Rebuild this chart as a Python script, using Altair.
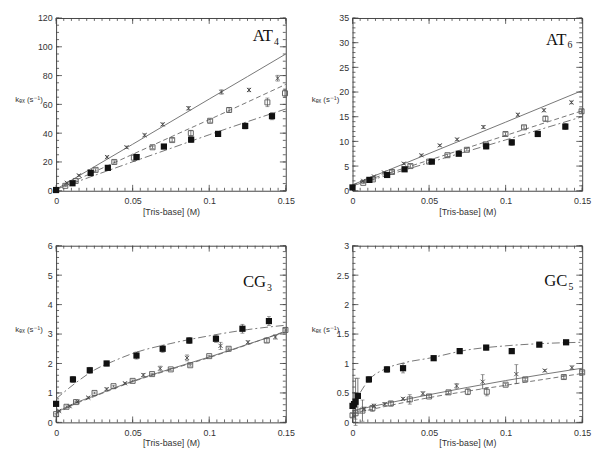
import altair as alt
import pandas as pd
import numpy as np

# ---------------- shared ticks ----------------
X_TICKS = [0, 0.05, 0.1, 0.15]
X_MINOR = [round(v, 4) for v in np.arange(0, 0.1501, 0.005)]

# ---------------- AT4 ----------------
at4_cross_x = [0.007, 0.0149, 0.022, 0.0333, 0.046, 0.0578, 0.0696, 0.0865, 0.108, 0.126, 0.1447]
at4_cross_y = [5.5, 10.7, 13.6, 23.4, 30.2, 38.6, 46.1, 57.3, 68.6, 70.0, 78.2]
at4_cross_e = [0.5, 0.6, 0.8, 0.8, 0.8, 1.0, 1.0, 1.2, 1.5, 1.2, 2.0]
at4_open_x = [0.006, 0.0128, 0.0258, 0.038, 0.0508, 0.063, 0.0758, 0.088, 0.1006, 0.113, 0.138, 0.1495]
at4_open_y = [3.4, 6.8, 14.5, 20.0, 23.0, 30.2, 35.2, 40.0, 48.6, 56.1, 61.4, 67.7]
at4_open_e = [0.5, 0.6, 0.8, 0.8, 2.5, 0.8, 1.0, 2.0, 1.0, 1.5, 3.0, 3.0]
at4_fill_x = [0.0, 0.0107, 0.0226, 0.0338, 0.0526, 0.0704, 0.0882, 0.1058, 0.1235, 0.141]
at4_fill_y = [0.5, 5.2, 12.3, 15.9, 23.4, 30.7, 35.5, 39.5, 45.0, 51.8]
at4_fill_e = [0.4, 0.6, 0.8, 0.8, 1.0, 1.0, 1.8, 1.5, 2.0, 2.5]
at4_fit_x = [0, 0.025, 0.05, 0.075, 0.1, 0.125, 0.15]
at4_fit_solid = [1.0, 16.7, 32.3, 48.0, 63.7, 79.3, 95.0]
at4_fit_dash = [1.0, 13.2, 25.3, 37.4, 49.4, 61.6, 73.9]
at4_fit_dashdot = [1.0, 10.6, 20.1, 29.5, 38.9, 48.0, 56.8]

# ---------------- AT6 ----------------
at6_cross_x = [0.007, 0.014, 0.0206, 0.0335, 0.045, 0.057, 0.0683, 0.0855, 0.108, 0.125, 0.143]
at6_cross_y = [2.0, 2.9, 3.7, 5.5, 7.2, 9.2, 10.4, 12.9, 15.4, 16.3, 17.9]
at6_cross_e = [0.1, 0.1, 0.15, 0.2, 0.2, 0.2, 0.25, 0.3, 0.3, 0.3, 0.3]
at6_open_x = [0.007, 0.0133, 0.0258, 0.0378, 0.05, 0.062, 0.0747, 0.087, 0.0999, 0.112, 0.126, 0.1496]
at6_open_y = [1.6, 2.3, 3.8, 5.0, 5.9, 7.2, 8.3, 9.4, 11.5, 12.85, 14.6, 16.1]
at6_open_e = [0.15, 0.15, 0.3, 0.3, 0.3, 0.25, 0.25, 0.3, 0.3, 0.3, 0.5, 0.4]
at6_fill_x = [0.0, 0.011, 0.0226, 0.034, 0.0518, 0.0694, 0.0873, 0.104, 0.121, 0.139]
at6_fill_y = [0.67, 2.2, 3.2, 4.35, 5.9, 7.5, 9.0, 9.8, 11.5, 13.0]
at6_fill_e = [0.2, 0.2, 0.3, 0.3, 0.3, 0.3, 0.5, 0.6, 0.5, 0.6]
at6_fit_x = [0, 0.05, 0.1, 0.15]
at6_fit_solid = [1.2, 7.55, 13.9, 20.3]
at6_fit_dash = [1.2, 6.2, 11.2, 16.2]
at6_fit_dashdot = [1.0, 5.7, 10.3, 15.0]

# ---------------- CG3 ----------------
cg3_cross_x = [0.002, 0.0088, 0.014, 0.021, 0.033, 0.045, 0.057, 0.068, 0.0855, 0.1074, 0.1253, 0.1432]
cg3_cross_y = [0.39, 0.55, 0.70, 0.84, 1.13, 1.33, 1.61, 1.83, 2.19, 2.60, 2.72, 2.90]
cg3_cross_e = [0.03, 0.03, 0.03, 0.03, 0.04, 0.03, 0.05, 0.08, 0.10, 0.12, 0.05, 0.07]
cg3_open_x = [0.0, 0.0068, 0.013, 0.0251, 0.0375, 0.05, 0.0627, 0.0749, 0.0876, 0.1, 0.1127, 0.1376, 0.1498]
cg3_open_y = [0.28, 0.53, 0.69, 1.00, 1.23, 1.41, 1.64, 1.80, 1.94, 2.25, 2.50, 2.78, 3.14]
cg3_open_e = [0.03, 0.03, 0.03, 0.03, 0.03, 0.03, 0.03, 0.03, 0.03, 0.03, 0.03, 0.06, 0.03]
cg3_fill_x = [0.0, 0.011, 0.022, 0.033, 0.0525, 0.0696, 0.087, 0.1044, 0.1217, 0.139]
cg3_fill_y = [0.63, 1.46, 1.77, 2.00, 2.27, 2.50, 2.78, 2.84, 3.18, 3.44]
cg3_fill_e = [0.05, 0.10, 0.10, 0.08, 0.12, 0.12, 0.10, 0.12, 0.15, 0.15]
cg3_fit_x = [0, 0.0125, 0.025, 0.0375, 0.05, 0.075, 0.1, 0.125, 0.15]
cg3_fit_solid = [0.33, 0.66, 0.90, 1.16, 1.40, 1.82, 2.22, 2.65, 3.08]
cg3_fit_dash = [0.30, 0.63, 0.88, 1.14, 1.38, 1.80, 2.20, 2.64, 3.10]
cg3_fit_dashdot = [0.80, 1.33, 1.78, 2.08, 2.34, 2.68, 2.94, 3.15, 3.30]

# ---------------- GC5 ----------------
gc5_cross_x = [0.0075, 0.014, 0.021, 0.033, 0.046, 0.068, 0.085, 0.107, 0.1256, 0.1433]
gc5_cross_y = [0.23, 0.28, 0.31, 0.40, 0.49, 0.62, 0.69, 0.82, 0.88, 0.93]
gc5_cross_e = [0.03, 0.03, 0.03, 0.02, 0.03, 0.04, 0.12, 0.16, 0.02, 0.03]
gc5_open_x = [0.0, 0.002, 0.0065, 0.013, 0.025, 0.0374, 0.05, 0.0627, 0.0753, 0.0877, 0.1, 0.1128, 0.138, 0.15]
gc5_open_y = [0.12, 0.155, 0.20, 0.24, 0.32, 0.39, 0.44, 0.51, 0.52, 0.52, 0.64, 0.73, 0.77, 0.85]
gc5_open_e = [0.03, 0.10, 0.18, 0.05, 0.04, 0.08, 0.02, 0.02, 0.05, 0.07, 0.02, 0.02, 0.03, 0.02]
gc5_fill_x = [0.0, 0.001, 0.002, 0.0035, 0.0107, 0.0225, 0.033, 0.053, 0.070, 0.0873, 0.104, 0.122, 0.1395]
gc5_fill_y = [0.28, 0.31, 0.35, 0.45, 0.73, 0.90, 0.92, 1.09, 1.21, 1.27, 1.21, 1.32, 1.36]
gc5_fill_e = [0.03, 0.20, 0.40, 0.30, 0.05, 0.05, 0.08, 0.04, 0.03, 0.04, 0.04, 0.03, 0.02]
gc5_fit_x = [0, 0.0035, 0.0107, 0.0225, 0.035, 0.05, 0.075, 0.1, 0.125, 0.15]
gc5_fit_dashdot = [0.28, 0.44, 0.72, 0.92, 1.02, 1.09, 1.23, 1.30, 1.34, 1.36]
gc5_lin_x = [0, 0.05, 0.1, 0.15]
gc5_fit_solid = [0.20, 0.47, 0.71, 0.92]
gc5_fit_dash = [0.15, 0.42, 0.63, 0.83]

# ---------------- style ----------------
FONT = "Liberation Sans, DejaVu Sans"
SERIF = "Liberation Serif, DejaVu Serif"
TXT = "#333333"
FRAME = "#444444"
LINE = "#666666"
CROSS_PATH = "M-1,-1L1,1M-1,1L1,-1"
DASH = [5, 3]
DASHDOT = [8, 3, 2, 3]
LABEL_EXPR = "'' + datum.value"


def make_panel(p):
    W, H = p["w"], p["h"]
    xs = alt.Scale(domain=[0, 0.15], nice=False, zero=False)
    ys = alt.Scale(domain=[0, p["ymax"]], nice=False, zero=False)
    xaxis = alt.Axis(values=X_TICKS, labelExpr=LABEL_EXPR, title="[Tris-base] (M)",
                     ticks=False, tickSize=0, domain=False, grid=False,
                     labelPadding=6, titlePadding=2, labelFontSize=9, titleFontSize=9,
                     labelFont=FONT, titleFont=FONT, labelColor=TXT, titleColor=TXT,
                     titleFontWeight="normal", labelFlush=False)
    yaxis = alt.Axis(values=p["ymajor"], labelExpr=LABEL_EXPR, title="kₑₓ (s⁻¹)",
                     ticks=False, tickSize=0, domain=False, grid=False,
                     labelPadding=4, labelFontSize=9, titleFontSize=8,
                     labelFont=FONT, titleFont=FONT, labelColor=TXT, titleColor=TXT,
                     titleFontWeight="normal", titleAngle=0, titleAlign="right",
                     titleBaseline="middle", titleX=-14, titleY=H / 2 - 5)
    X = alt.X("x:Q", scale=xs, axis=xaxis)
    Y = alt.Y("y:Q", scale=ys, axis=yaxis)

    layers = []
    # inward ticks on all four sides
    for vals, ln in [(X_MINOR, 3), (X_TICKS, 6)]:
        d = pd.DataFrame({"x": vals})
        layers.append(alt.Chart(d).mark_rule(color=FRAME, strokeWidth=0.8).encode(
            x=X, y=alt.value(H), y2=alt.value(H - ln)))
        layers.append(alt.Chart(d).mark_rule(color=FRAME, strokeWidth=0.8).encode(
            x=X, y=alt.value(0), y2=alt.value(ln)))
    for vals, ln in [(p["yminor"], 3), (p["ymajor"], 6)]:
        d = pd.DataFrame({"y": vals})
        layers.append(alt.Chart(d).mark_rule(color=FRAME, strokeWidth=0.8).encode(
            y=Y, x=alt.value(0), x2=alt.value(ln)))
        layers.append(alt.Chart(d).mark_rule(color=FRAME, strokeWidth=0.8).encode(
            y=Y, x=alt.value(W), x2=alt.value(W - ln)))

    # fit curves
    for fx, fy, dash in p["fits"]:
        d = pd.DataFrame({"x": fx, "y": fy})
        kw = dict(interpolate="monotone", color=LINE, strokeWidth=0.9)
        if dash:
            kw["strokeDash"] = dash
        layers.append(alt.Chart(d).mark_line(**kw).encode(x=X, y=Y))

    # error bars
    for sx, sy, se, _kind in p["series"]:
        d = pd.DataFrame({"x": sx, "y": sy, "err": se})
        layers.append(alt.Chart(d).mark_errorbar(ticks={"size": 4}, color="#555555", thickness=0.8).encode(
            x=X, y=Y, yError="err:Q"))

    # symbols
    for sx, sy, se, kind in p["series"]:
        d = pd.DataFrame({"x": sx, "y": sy})
        if kind == "fill":
            m = alt.Chart(d).mark_point(shape="square", filled=True, size=40, color="#111111", opacity=1)
        elif kind == "open":
            m = alt.Chart(d).mark_point(shape="square", filled=False, size=26, color="#555555",
                                        strokeWidth=0.9, opacity=1)
        else:
            m = alt.Chart(d).mark_point(shape=CROSS_PATH, filled=False, size=18, color="#444444",
                                        strokeWidth=0.9, opacity=1)
        layers.append(m.encode(x=X, y=Y))

    # panel label
    lab = pd.DataFrame({"t": [p["label"]], "s": [p["sub"]]})
    layers.append(alt.Chart(lab).mark_text(font=SERIF, fontSize=17, align="right",
                                           baseline="alphabetic", color="#111111").encode(
        text="t:N", x=alt.value(W - p["lab_r"]), y=alt.value(p["lab_b"])))
    layers.append(alt.Chart(lab).mark_text(font=SERIF, fontSize=10, align="left",
                                           baseline="alphabetic", color="#111111").encode(
        text="s:N", x=alt.value(W - p["lab_r"] + 1), y=alt.value(p["lab_b"] + 4)))

    return alt.layer(*layers).properties(width=W, height=H)


panels = [
    dict(w=234, h=176, ymax=120, ymajor=[0, 20, 40, 60, 80, 100, 120],
         yminor=list(range(0, 121, 5)), label="AT", sub="4", lab_r=13, lab_b=23,
         fits=[(at4_fit_x, at4_fit_solid, None), (at4_fit_x, at4_fit_dash, DASH),
               (at4_fit_x, at4_fit_dashdot, DASHDOT)],
         series=[(at4_cross_x, at4_cross_y, at4_cross_e, "cross"),
                 (at4_open_x, at4_open_y, at4_open_e, "open"),
                 (at4_fill_x, at4_fill_y, at4_fill_e, "fill")]),
    dict(w=234, h=176, ymax=35, ymajor=[0, 5, 10, 15, 20, 25, 30, 35],
         yminor=list(range(0, 36, 1)), label="AT", sub="6", lab_r=16, lab_b=27,
         fits=[(at6_fit_x, at6_fit_solid, None), (at6_fit_x, at6_fit_dash, DASH),
               (at6_fit_x, at6_fit_dashdot, DASHDOT)],
         series=[(at6_cross_x, at6_cross_y, at6_cross_e, "cross"),
                 (at6_open_x, at6_open_y, at6_open_e, "open"),
                 (at6_fill_x, at6_fill_y, at6_fill_e, "fill")]),
    dict(w=234, h=180, ymax=6, ymajor=[0, 1, 2, 3, 4, 5, 6],
         yminor=[round(v, 2) for v in np.arange(0, 6.01, 0.2)], label="CG", sub="3",
         lab_r=20, lab_b=42,
         fits=[(cg3_fit_x, cg3_fit_solid, None), (cg3_fit_x, cg3_fit_dash, DASH),
               (cg3_fit_x, cg3_fit_dashdot, DASHDOT)],
         series=[(cg3_cross_x, cg3_cross_y, cg3_cross_e, "cross"),
                 (cg3_open_x, cg3_open_y, cg3_open_e, "open"),
                 (cg3_fill_x, cg3_fill_y, cg3_fill_e, "fill")]),
    dict(w=234, h=180, ymax=3, ymajor=[0, 0.5, 1, 1.5, 2, 2.5, 3],
         yminor=[round(v, 2) for v in np.arange(0, 3.001, 0.1)], label="GC", sub="5",
         lab_r=15, lab_b=41,
         fits=[(gc5_lin_x, gc5_fit_solid, None), (gc5_lin_x, gc5_fit_dash, DASH),
               (gc5_fit_x, gc5_fit_dashdot, DASHDOT)],
         series=[(gc5_cross_x, gc5_cross_y, gc5_cross_e, "cross"),
                 (gc5_open_x, gc5_open_y, gc5_open_e, "open"),
                 (gc5_fill_x, gc5_fill_y, gc5_fill_e, "fill")]),
]

charts = [make_panel(p) for p in panels]

chart = alt.concat(*charts, columns=2, spacing={"row": 24, "column": 15}, align="each").properties(
    padding={"left": 6, "top": 1, "right": 0, "bottom": 0},
    background="white",
).configure_view(stroke=FRAME, strokeWidth=1)

chart.save("out.html", embed_options={"renderer": "svg", "actions": False})
